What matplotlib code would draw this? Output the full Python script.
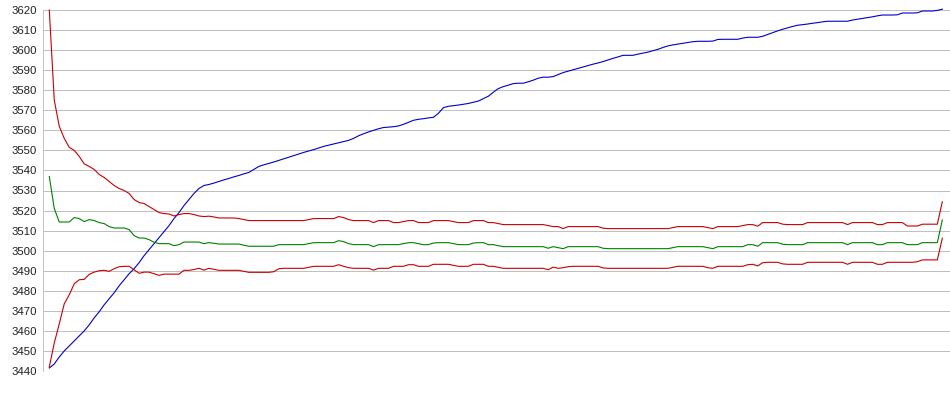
import numpy as np
import matplotlib
matplotlib.use("Agg")
import matplotlib.pyplot as plt

plt.rcParams['font.family'] = ['Liberation Sans', 'DejaVu Sans']

# values, one point every ~5 px
upper_band = [
    3620, 3575, 3562, 3556, 3551.5, 3550, 3547, 3543.3, 3542, 3540.5,
    3538, 3536.5, 3534.5, 3532.5, 3531, 3530, 3528.5, 3525.5, 3524, 3523.5,
    3522, 3520.5, 3519, 3518.5, 3518.3, 3517.3, 3518, 3518.5, 3518.5, 3518,
    3517.3, 3517, 3517.2, 3516.8, 3516.3, 3516.3, 3516.3, 3516.3, 3516, 3515.5,
    3515, 3515, 3515, 3515, 3515, 3515, 3515, 3515, 3515, 3515,
    3515, 3515, 3515.5, 3516, 3516, 3516, 3516, 3516, 3517, 3516.5,
    3515.5, 3515, 3515, 3515, 3515, 3514, 3515, 3515, 3515, 3514,
    3514, 3514.5, 3515, 3515, 3514, 3514, 3514, 3515, 3515, 3515,
    3515, 3514.5, 3514, 3514, 3514, 3515, 3515, 3515, 3514, 3514,
    3513.5, 3513, 3513, 3513, 3513, 3513, 3513, 3513, 3513, 3513,
    3512.5, 3512, 3512, 3511, 3512, 3512, 3512, 3512, 3512, 3512,
    3512, 3511.2, 3511, 3511, 3511, 3511, 3511, 3511, 3511, 3511,
    3511, 3511, 3511, 3511, 3511, 3511.5, 3512, 3512, 3512, 3512,
    3512, 3512, 3511.5, 3511, 3512, 3512, 3512, 3512, 3512, 3512.5,
    3513, 3513, 3512.2, 3514, 3514, 3514, 3514, 3513.2, 3513, 3513,
    3513, 3513, 3514, 3514, 3514, 3514, 3514, 3514, 3514, 3514,
    3513, 3514, 3514, 3514, 3514, 3514, 3513, 3513, 3514, 3514,
    3514, 3514, 3512.3, 3512.3, 3512.3, 3513.2, 3513.2, 3513.2, 3513.2, 3524.4,
]

middle_line = [
    3537, 3521, 3514.3, 3514.3, 3514.3, 3516.5, 3516, 3514.5, 3515.5, 3515,
    3514, 3513.5, 3512, 3511.3, 3511.3, 3511.3, 3510.5, 3507.5, 3506.3, 3506.3,
    3505.5, 3504.2, 3503.5, 3503.5, 3503.5, 3502.5, 3503, 3504.3, 3504.3, 3504.3,
    3504.3, 3503.5, 3504, 3503.7, 3503.3, 3503.3, 3503.3, 3503.3, 3503.3, 3502.7,
    3502.2, 3502.2, 3502.2, 3502.2, 3502.2, 3502.2, 3503, 3503, 3503, 3503,
    3503, 3503, 3503.5, 3504, 3504, 3504, 3504, 3504, 3505, 3504.5,
    3503.5, 3503, 3503, 3503, 3503, 3502, 3503, 3503, 3503, 3503,
    3503, 3503.5, 3504, 3504, 3503.5, 3503, 3503, 3503.8, 3504, 3504,
    3504, 3503.5, 3503, 3503, 3503, 3503.8, 3504, 3504, 3503, 3503,
    3502.5, 3502, 3502, 3502, 3502, 3502, 3502, 3502, 3502, 3502,
    3501.2, 3502, 3501.5, 3501, 3502, 3502, 3502, 3502, 3502, 3502,
    3502, 3501.2, 3501, 3501, 3501, 3501, 3501, 3501, 3501, 3501,
    3501, 3501, 3501, 3501, 3501, 3501.5, 3502, 3502, 3502, 3502,
    3502, 3502, 3501.5, 3501, 3502, 3502, 3502, 3502, 3502, 3502,
    3503, 3503, 3502.2, 3504, 3504, 3504, 3504, 3503.2, 3503, 3503,
    3503, 3503, 3504, 3504, 3504, 3504, 3504, 3504, 3504, 3504,
    3503, 3504, 3504, 3504, 3504, 3504, 3503, 3503, 3504, 3504,
    3504, 3504, 3503, 3503, 3503, 3504, 3504, 3504, 3504, 3515.3,
]

lower_band = [
    3442, 3454, 3463.5, 3473.5, 3478, 3483.5, 3485.5, 3485.7, 3488.2, 3489.3,
    3490, 3490.2, 3489.7, 3491, 3492, 3492.2, 3492.2, 3490.5, 3488.7, 3489.3,
    3489.3, 3488.5, 3487.7, 3488.3, 3488.3, 3488.3, 3488.3, 3490.2, 3490.2, 3490.6,
    3491.2, 3490.3, 3491.2, 3490.7, 3490.2, 3490.2, 3490.2, 3490.2, 3490.2, 3489.7,
    3489.2, 3489.2, 3489.2, 3489.2, 3489.2, 3489.5, 3491, 3491.2, 3491.2, 3491.2,
    3491.2, 3491.2, 3491.7, 3492.2, 3492.2, 3492.2, 3492.2, 3492.2, 3493, 3492.2,
    3491.5, 3491.2, 3491.2, 3491.2, 3491.2, 3490.3, 3491.2, 3491.2, 3491.2, 3492.2,
    3492.2, 3492.2, 3493, 3493, 3492.2, 3492.2, 3492.2, 3493.2, 3493.2, 3493.2,
    3493.2, 3492.7, 3492.2, 3492.2, 3492.2, 3493.2, 3493.2, 3493.2, 3492.2, 3492.2,
    3491.7, 3491.2, 3491.2, 3491.2, 3491.2, 3491.2, 3491.2, 3491.2, 3491.2, 3491.2,
    3490.5, 3491.8, 3491.2, 3491.5, 3492, 3492.2, 3492.2, 3492.2, 3492.2, 3492.2,
    3492.2, 3491.4, 3491.2, 3491.2, 3491.2, 3491.2, 3491.2, 3491.2, 3491.2, 3491.2,
    3491.2, 3491.2, 3491.2, 3491.2, 3491.2, 3491.7, 3492.2, 3492.2, 3492.2, 3492.2,
    3492.2, 3492.2, 3491.5, 3491.2, 3492.2, 3492.2, 3492.2, 3492.2, 3492.2, 3492.2,
    3493, 3493.2, 3492.4, 3494, 3494.2, 3494.2, 3494.2, 3493.4, 3493.2, 3493.2,
    3493.2, 3493.2, 3494.2, 3494.2, 3494.2, 3494.2, 3494.2, 3494.2, 3494.2, 3494.2,
    3493.2, 3494.2, 3494.2, 3494.2, 3494.2, 3494.2, 3493.2, 3493.2, 3494.2, 3494.2,
    3494.2, 3494.2, 3494.2, 3494.2, 3494.5, 3495.4, 3495.4, 3495.4, 3495.4, 3506.2,
]

rising_line = [
    3441.5, 3443.5, 3447, 3450, 3452.5, 3455, 3457.5, 3460, 3463, 3466.5,
    3469.5, 3473, 3476, 3479, 3482.5, 3485.5, 3488.5, 3491, 3494, 3497.5,
    3500.5, 3503.5, 3506.5, 3509.5, 3512.5, 3516, 3519, 3522.5, 3525.5, 3528.5,
    3531, 3532.5, 3533, 3533.7, 3534.5, 3535.3, 3536, 3536.8, 3537.5, 3538.3,
    3539, 3540.5, 3542, 3542.8, 3543.5, 3544.2, 3545, 3545.8, 3546.6, 3547.4,
    3548.2, 3549, 3549.7, 3550.4, 3551.2, 3552, 3552.6, 3553.2, 3553.8, 3554.4,
    3555, 3556, 3557.3, 3558.3, 3559.2, 3560, 3560.8, 3561.4, 3561.6, 3561.8,
    3562.2, 3563, 3564, 3565, 3565.5, 3565.8, 3566.2, 3566.5, 3568.5, 3571.3,
    3572, 3572.3, 3572.6, 3573, 3573.4, 3574, 3574.6, 3575.8, 3577, 3579,
    3580.8, 3581.8, 3582.5, 3583.3, 3583.5, 3583.5, 3584.2, 3585, 3586, 3586.5,
    3586.5, 3586.8, 3587.8, 3588.8, 3589.5, 3590.2, 3590.9, 3591.6, 3592.3, 3593,
    3593.6, 3594.3, 3595.1, 3595.9, 3596.6, 3597.4, 3597.4, 3597.4, 3598, 3598.5,
    3599, 3599.7, 3600.4, 3601.3, 3602.1, 3602.6, 3603, 3603.4, 3603.8, 3604.2,
    3604.4, 3604.4, 3604.4, 3604.5, 3605.3, 3605.4, 3605.4, 3605.4, 3605.4, 3606,
    3606.4, 3606.4, 3606.4, 3606.9, 3607.8, 3608.7, 3609.6, 3610.4, 3611.1, 3611.8,
    3612.4, 3612.7, 3613, 3613.4, 3613.7, 3614.1, 3614.4, 3614.4, 3614.4, 3614.4,
    3614.4, 3615, 3615.4, 3615.8, 3616.2, 3616.6, 3617.1, 3617.5, 3617.5, 3617.5,
    3617.6, 3618.5, 3618.5, 3618.5, 3618.6, 3619.5, 3619.5, 3619.5, 3619.8, 3620.4,
]

y_ticks = list(range(3440, 3621, 10))

fig = plt.figure(figsize=(9.5, 3.95), dpi=100)
ax = fig.add_axes([43 / 950, 24 / 395, 907 / 950, 361 / 395])

x = np.arange(len(rising_line))
line_kw = dict(linewidth=0.8, antialiased=True, clip_on=False)
ax.plot(x, rising_line, color="#0000c8", **line_kw)
ax.plot(x, upper_band, color="#c80000", **line_kw)
ax.plot(x, lower_band, color="#c80000", **line_kw)
ax.plot(x, middle_line, color="#008000", **line_kw)

ax.set_xlim(-1.26, len(x) - 1 + 1.54)
ax.set_ylim(3440, 3620)
ax.set_yticks(y_ticks)
ax.set_xticks([])
ax.grid(axis="y", color="#c0c0c0", linewidth=0.68, antialiased=False)
ax.set_axisbelow(True)
for side in ["top", "right", "bottom"]:
    ax.spines[side].set_visible(False)
ax.spines["left"].set_color("#c0c0c0")
ax.spines["left"].set_linewidth(0.68)
ax.tick_params(axis="y", length=0, pad=4.5, labelsize=8.2, labelcolor="#202020")

fig.savefig("out.png", dpi=100)
